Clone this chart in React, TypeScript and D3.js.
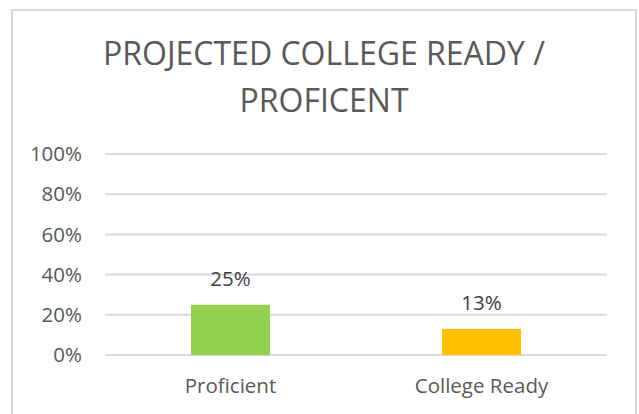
import React from "react";
import * as d3 from "d3";

const categories = ["Proficient", "College Ready"];
const values = [0.25, 0.13];
const barColors = ["#92D050", "#FFC000"];
const yTicks = [0, 0.2, 0.4, 0.6, 0.8, 1.0];
const titleLines = ["PROJECTED COLLEGE READY /", "PROFICENT"];

const W = 639;
const H = 414;
const FONT = "'Open Sans', Lato, sans-serif";

export default function App() {
  const x = d3.scaleBand<string>().domain(categories).range([105, 607]).paddingInner(0.685).paddingOuter(0.3425);
  const y = d3.scaleLinear().domain([0, 1]).range([355, 154]);
  const fmt = d3.format(".0%");

  return (
    <svg width={W} height={H} style={{ position: "absolute", left: 0, top: 0, background: "#fff" }}>
      <rect x={0} y={0} width={W} height={H} fill="#fff" />
      <rect x={12} y={10} width={624} height={420} fill="#fff" stroke="#D9D9D9" strokeWidth={2} />
      {titleLines.map((t, i) => (
        <text key={i} x={324} y={64.5 + i * 47} textAnchor="middle" fill="#595959" fontFamily={FONT} fontSize={32}>
          {t}
        </text>
      ))}
      {yTicks.map((t) => (
        <g key={t}>
          <line x1={105} x2={607} y1={y(t)} y2={y(t)} stroke="#D9D9D9" strokeWidth={2} />
          <text x={82} y={y(t)} dy="0.35em" textAnchor="end" fill="#595959" fontFamily={FONT} fontSize={20.5}>
            {fmt(t)}
          </text>
        </g>
      ))}
      {categories.map((c, i) => (
        <g key={c}>
          <rect x={x(c)} y={y(values[i])} width={x.bandwidth()} height={y(0) - y(values[i])} fill={barColors[i]} />
          <text x={(x(c) ?? 0) + x.bandwidth() / 2} y={y(values[i]) - 18.5} textAnchor="middle" fill="#404040" fontFamily={FONT} fontSize={20.5}>
            {fmt(values[i])}
          </text>
          <text x={(x(c) ?? 0) + x.bandwidth() / 2} y={393} textAnchor="middle" fill="#595959" fontFamily={FONT} fontSize={20.5}>
            {c}
          </text>
        </g>
      ))}
    </svg>
  );
}
